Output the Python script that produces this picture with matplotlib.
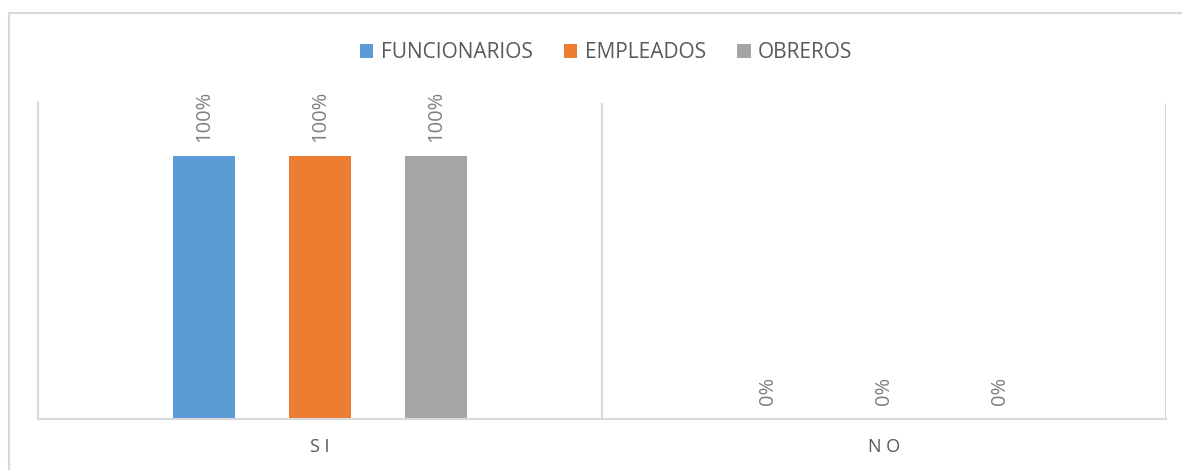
import matplotlib
matplotlib.use('Agg')
import matplotlib.pyplot as plt
import numpy as np
from matplotlib.patches import Rectangle

# ── datos ───────────────────────────────────────────────────────────────────
categorias = ['S I', 'N O']
series     = ['FUNCIONARIOS', 'EMPLEADOS', 'OBREROS']
valores    = {
    'FUNCIONARIOS': [1.00, 0.00],
    'EMPLEADOS':    [1.00, 0.00],
    'OBREROS':      [1.00, 0.00],
}
colores = ['#5B9BD5', '#ED7D31', '#A5A5A5']

plt.rcParams['font.family'] = ['Open Sans', 'DejaVu Sans']

fig = plt.figure(figsize=(11.82, 4.70), dpi=100)
fig.patch.set_facecolor('white')

# marco exterior del gráfico
fig.patches.append(Rectangle((9 / 1182, -0.1), 1.2, (470 - 13) / 470 + 0.1,
                             transform=fig.transFigure, fill=False,
                             edgecolor='#D9D9D9', lw=1.5))

ax = fig.add_axes([38 / 1182, (470 - 419) / 470, (1166 - 38) / 1182, (419 - 103) / 470])

x = np.arange(len(categorias))
bw = 0.11
step = 0.206
for i, (s, c) in enumerate(zip(series, colores)):
    pos = x + (i - 1) * step
    vals = valores[s]
    ax.bar(pos, vals, bw, color=c, label=s, zorder=2)
    for xp, v in zip(pos, vals):
        ax.annotate(f'{v:.0%}', xy=(xp, v), xytext=(0, 10), textcoords='offset points',
                    rotation=90, ha='center', va='bottom', fontsize=14.5, color='#7F7F7F')

ax.set_xlim(-0.5, 1.5)
ax.set_ylim(0, 1.2)
ax.set_yticks([])
ax.set_xticks(x)
ax.set_xticklabels(categorias, fontsize=13, color='#595959')
ax.tick_params(axis='x', length=0, pad=14)

for sp in ['top', 'right']:
    ax.spines[sp].set_visible(False)
for sp in ['left', 'bottom']:
    ax.spines[sp].set_color('#D9D9D9')
    ax.spines[sp].set_linewidth(1.5)
for xv in [0.5, 1.5]:
    ax.axvline(xv, color='#D9D9D9', lw=1.5, zorder=1)

ax.legend(loc='center', bbox_to_anchor=(606 / 1182, (470 - 53) / 470),
          bbox_transform=fig.transFigure, ncol=3, frameon=False,
          fontsize=15, labelcolor='#595959', handlelength=0.65, handleheight=0.65,
          handletextpad=0.35, columnspacing=1.5)

plt.savefig('out.png', dpi=100, facecolor=fig.get_facecolor())
